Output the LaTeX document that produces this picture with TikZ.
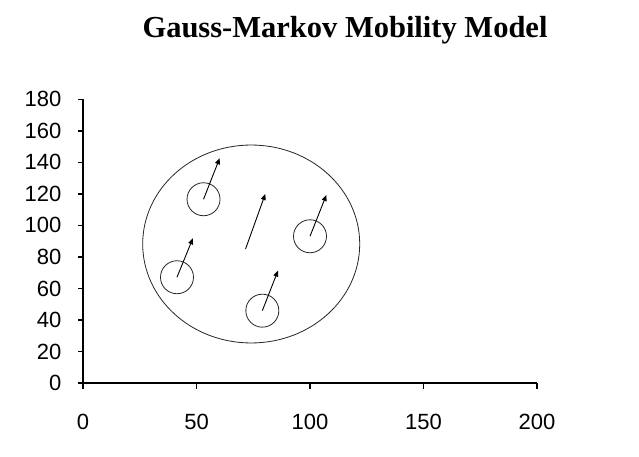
\documentclass[tikz,border=0pt]{standalone}
\usepackage{fontspec}
\setmainfont{Liberation Serif}
\newfontfamily\plotfont{Liberation Sans}
\usetikzlibrary{arrows.meta}

\begin{document}
\begin{tikzpicture}[x=1pt,y=-1pt,axis/.style={line width=1.8pt},tck/.style={line width=1.5pt},lbl/.style={font=\plotfont\fontsize{22}{22}\selectfont,inner sep=0pt},mobile/.style={draw=black!85,circle,minimum size=33pt,inner sep=0pt,line width=0.8pt},region/.style={draw=black!85,line width=0.8pt},move/.style={-{Triangle[length=6pt,width=5pt]},line width=0.9pt}]
\useasboundingbox (0,0) rectangle (639,457);
\node[font=\bfseries\fontsize{30.5}{30.5}\selectfont,anchor=base,inner sep=0pt] (title) at (345,38) {Gauss-Markov Mobility Model};
\begin{scope}[shift={(83,383)},x=2.27pt,y=1.576pt]
% axes
\draw[axis] (0,180) -- (0,0) -- (200,0);
\foreach \k in {0,20,...,180} {
  \draw[tck] (0,\k) -- ++(-5pt,0);
  \node[lbl,anchor=east] (ylab\k) at ([xshift=-21.5pt]0,\k) {\k};
}
\foreach \k in {0,50,...,200} {
  \draw[tck] (\k,0) -- ++(0,-5.5pt);
  \node[lbl] (xlab\k) at ([yshift=-39pt]\k,0) {\k};
}
% simulation area
\draw[region] (74.1,88.2) ellipse [x radius=47.8, y radius=62.8];
% mobile nodes
\node[mobile] (m1) at (53.1,116.6) {};
\node[mobile] (m2) at (41.4,67.1) {};
\node[mobile] (m3) at (79.0,45.9) {};
\node[mobile] (m4) at (100.0,93.1) {};
\coordinate (h1) at (60.2,142.6);
\coordinate (h2) at (48.4,91.8);
\coordinate (h3) at (85.9,71.3);
\coordinate (h4) at (107.2,119.3);
\coordinate (s5) at (71.6,85.0);
\coordinate (h5) at (80.3,119.9);
\draw[move] (m1.center) -- (h1);
\draw[move] (m2.center) -- (h2);
\draw[move] (m3.center) -- (h3);
\draw[move] (m4.center) -- (h4);
\draw[move] (s5) -- (h5);
\end{scope}
\end{tikzpicture}
\end{document}
